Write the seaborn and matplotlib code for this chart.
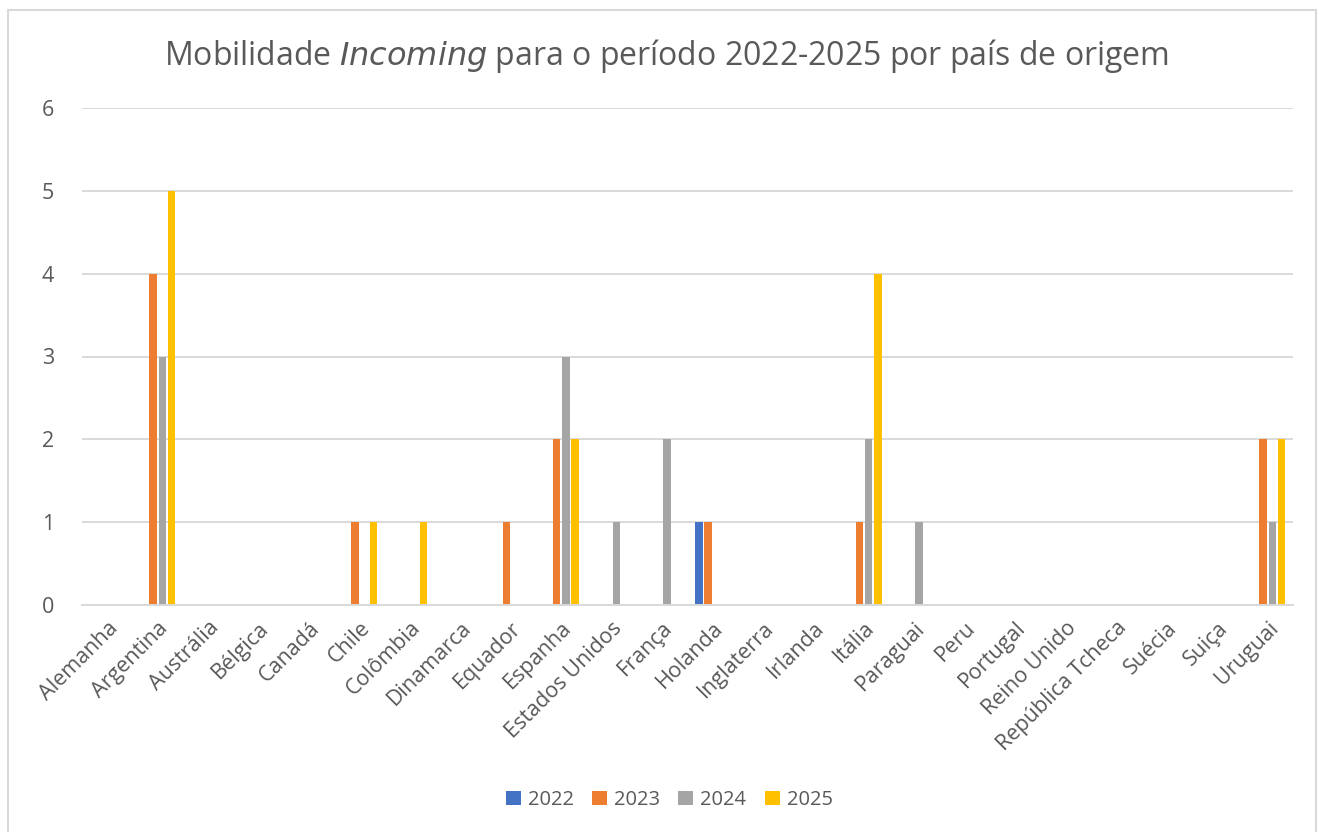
import matplotlib
matplotlib.use("Agg")
import matplotlib.pyplot as plt
import seaborn as sns
import pandas as pd
from matplotlib.patches import Rectangle

countries = ["Alemanha", "Argentina", "Austrália", "Bélgica", "Canadá", "Chile",
             "Colômbia", "Dinamarca", "Equador", "Espanha", "Estados Unidos",
             "França", "Holanda", "Inglaterra", "Irlanda", "Itália", "Paraguai",
             "Peru", "Portugal", "Reino Unido", "República Tcheca", "Suécia",
             "Suiça", "Uruguai"]
years = ["2022", "2023", "2024", "2025"]
v2022 = [0, 0, 0, 0, 0, 0, 0, 0, 0, 0, 0, 0, 1, 0, 0, 0, 0, 0, 0, 0, 0, 0, 0, 0]
v2023 = [0, 4, 0, 0, 0, 1, 0, 0, 1, 2, 0, 0, 1, 0, 0, 1, 0, 0, 0, 0, 0, 0, 0, 2]
v2024 = [0, 3, 0, 0, 0, 0, 0, 0, 0, 3, 1, 2, 0, 0, 0, 2, 1, 0, 0, 0, 0, 0, 0, 1]
v2025 = [0, 5, 0, 0, 0, 1, 1, 0, 0, 2, 0, 0, 0, 0, 0, 4, 0, 0, 0, 0, 0, 0, 0, 2]
colors = ["#4472C4", "#ED7D31", "#A5A5A5", "#FFC000"]

rows = []
for yr, vals in zip(years, [v2022, v2023, v2024, v2025]):
    for c, v in zip(countries, vals):
        rows.append({"País": c, "Ano": yr, "Valor": v})
df = pd.DataFrame(rows)

sns.set_theme(style="white")
plt.rcParams["font.family"] = ["Open Sans", "DejaVu Sans"]
text_color = "#595959"

fig = plt.figure(figsize=(13.25, 8.32), dpi=100)
fig.patch.set_facecolor("white")
# chart border
fig.patches.append(Rectangle((8 / 1325, -0.02), (1316 - 8) / 1325, (832 - 10) / 832 + 0.02,
                             transform=fig.transFigure, fill=False,
                             edgecolor="#d9d9d9", linewidth=1.5))

ax = fig.add_axes([82 / 1325, (832 - 605) / 832, (1293 - 82) / 1325, (605 - 108) / 832])
sns.barplot(data=df, x="País", y="Valor", hue="Ano", order=countries,
            hue_order=years, palette=colors, width=0.73, gap=0.2,
            saturation=1, ax=ax, legend=True, linewidth=0)

ax.set_ylim(0, 6)
ax.set_yticks(range(0, 7))
ax.set_xlim(-0.5, len(countries) - 0.5)
ax.yaxis.grid(True, color="#d9d9d9", linewidth=1.4)
ax.set_axisbelow(True)
for s in ["top", "right", "left"]:
    ax.spines[s].set_visible(False)
ax.spines["bottom"].set_color("#d9d9d9")
ax.spines["bottom"].set_linewidth(1.4)
ax.tick_params(axis="both", length=0, colors=text_color, labelsize=15.5)
ax.tick_params(axis="y", pad=20)
ax.tick_params(axis="x", pad=9)
ax.set_xlabel("")
ax.set_ylabel("")
plt.setp(ax.get_xticklabels(), rotation=45, ha="right", rotation_mode="anchor")

leg = ax.legend(loc="center", bbox_to_anchor=(0.505, 1 - 800 / 832), bbox_transform=fig.transFigure,
                ncol=4, frameon=False, fontsize=14.5, handlelength=0.75, handleheight=0.75,
                columnspacing=0.9, handletextpad=0.35)
for t in leg.get_texts():
    t.set_color(text_color)

fig.text(0.503, 1 - 56 / 832, "Mobilidade $\\it{Incoming}$ para o período 2022-2025 por país de origem",
         ha="center", va="center", fontsize=23, color=text_color)

fig.savefig("out.png", dpi=100, facecolor="white")
